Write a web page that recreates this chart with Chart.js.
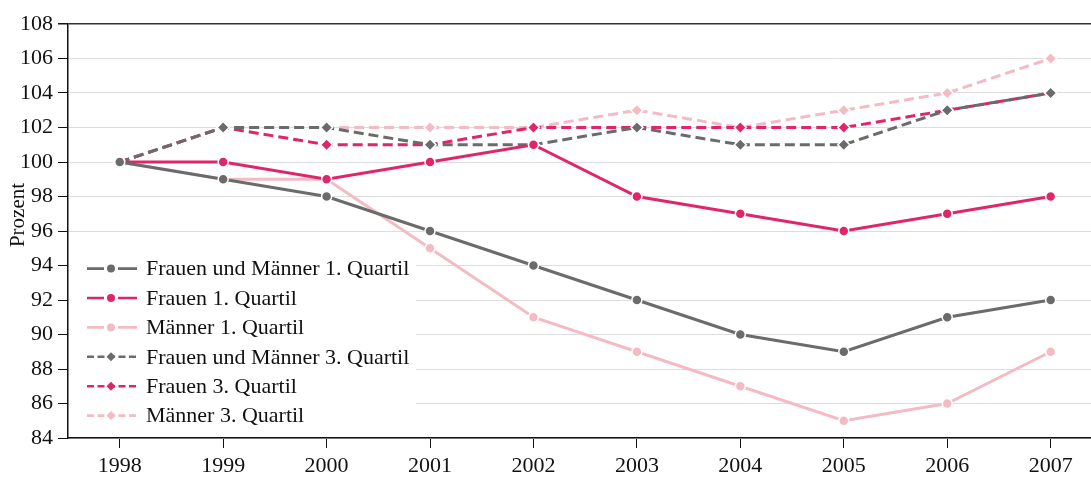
<!DOCTYPE html>
<html>
<head>
<meta charset="utf-8">
<script src="https://cdn.jsdelivr.net/npm/chart.js@4/dist/chart.umd.min.js"></script>
<style>
  html, body { margin: 0; padding: 0; background: #fff; overflow: hidden; }
  #wrap { width: 1091px; height: 478px; position: relative; }
</style>
</head>
<body>
<div id="wrap"><canvas id="chart"></canvas></div>
<script>
// Jahre (x-Achse)
const years = [1998, 1999, 2000, 2001, 2002, 2003, 2004, 2005, 2006, 2007];

// Werte in Prozent (1998 = 100)
const fmQ1 = [100, 99, 98, 96, 94, 92, 90, 89, 91, 92];
const fQ1 = [100, 100, 99, 100, 101, 98, 97, 96, 97, 98];
const mQ1 = [100, 99, 99, 95, 91, 89, 87, 85, 86, 89];
const fmQ3 = [100, 102, 102, 101, 101, 102, 101, 101, 103, 104];
const fQ3 = [100, 102, 101, 101, 102, 102, 102, 102, 103, 104];
const mQ3 = [100, 102, 102, 102, 102, 103, 102, 103, 104, 106];

const seriesLabels = [
    'Frauen und Männer 1. Quartil',
    'Frauen 1. Quartil',
    'Männer 1. Quartil',
    'Frauen und Männer 3. Quartil',
    'Frauen 3. Quartil',
    'Männer 3. Quartil'
];

// y-Achse: Tick-Werte und Titel
const yTicks = [84, 86, 88, 90, 92, 94, 96, 98, 100, 102, 104, 106, 108];
const yTitle = 'Prozent';

const GRAY = '#6b6b6b';
const RED = '#e0266a';
const PINK = '#f3bcc5';
const FONT = '"Liberation Serif", "DejaVu Serif", serif';
const FONT_SIZE = 22;

function makeSet(label, values, color, dashed) {
    return {
        label: label,
        data: values.map((v, i) => ({ x: years[i], y: v })),
        borderColor: color,
        backgroundColor: color,
        borderWidth: 3,
        borderDash: dashed ? [10, 5] : [],
        pointStyle: dashed ? 'rectRot' : 'circle',
        pointRadius: dashed ? 6 : 5,
        pointBorderColor: '#fff',
        pointBorderWidth: 1.5,
        pointBackgroundColor: color,
        tension: 0,
        fill: false
    };
}

const datasets = [
    makeSet(seriesLabels[0], fmQ1, GRAY, false),
    makeSet(seriesLabels[1], fQ1, RED, false),
    makeSet(seriesLabels[2], mQ1, PINK, false),
    makeSet(seriesLabels[3], fmQ3, GRAY, true),
    makeSet(seriesLabels[4], fQ3, RED, true),
    makeSet(seriesLabels[5], mQ3, PINK, true)
];

// Eigene Legende (Linie mit Marker, weißer Hintergrund) + y-Achsentitel
const legendBox = {
    id: 'legendBox',
    afterDatasetsDraw(chart) {
        const ctx = chart.ctx;
        const area = chart.chartArea;
        const left = area.left + 1;
        const bottom = area.bottom - 1;
        const rowH = 29.4;
        const boxH = rowH * datasets.length + 15;
        const top = bottom - boxH;
        ctx.save();
        ctx.fillStyle = '#fff';
        ctx.fillRect(left, top, 416 - left, boxH);
        ctx.font = FONT_SIZE + 'px ' + FONT;
        ctx.textBaseline = 'middle';
        chart.data.datasets.forEach((ds, i) => {
            const y = top + 23 + i * rowH;
            ctx.strokeStyle = ds.borderColor;
            ctx.lineWidth = 2.6;
            ctx.setLineDash(ds.borderDash.length ? [7, 3.5] : []);
            ctx.beginPath();
            if (ds.borderDash.length) {
                ctx.moveTo(87, y); ctx.lineTo(137, y);
            } else {
                ctx.moveTo(87, y); ctx.lineTo(104, y);
                ctx.moveTo(118, y); ctx.lineTo(137, y);
            }
            ctx.stroke();
            ctx.setLineDash([]);
            ctx.fillStyle = ds.borderColor;
            ctx.beginPath();
            if (ds.pointStyle === 'circle') {
                ctx.arc(111, y, 4, 0, Math.PI * 2);
            } else {
                ctx.moveTo(111, y - 4.5); ctx.lineTo(115.5, y);
                ctx.lineTo(111, y + 4.5); ctx.lineTo(106.5, y);
                ctx.closePath();
            }
            ctx.fill();
            ctx.fillStyle = '#111';
            ctx.fillText(ds.label, 146, y + 1);
        });

        // Titel der y-Achse, gedreht, leicht über der Mitte
        ctx.translate(18, 215);
        ctx.rotate(-Math.PI / 2);
        ctx.textAlign = 'center';
        ctx.font = '21px ' + FONT;
        ctx.fillText(yTitle, 0, 0);
        ctx.restore();
    }
};

new Chart(document.getElementById('chart'), {
    type: 'line',
    data: { datasets: datasets },
    options: {
        responsive: true,
        maintainAspectRatio: false,
        animation: false,
        layout: { autoPadding: false, padding: { top: 24, right: 0, left: 0, bottom: 0 } },
        plugins: {
            legend: { display: false },
            tooltip: { enabled: false }
        },
        scales: {
            x: {
                type: 'linear',
                min: 1997.5,
                max: 2007.39,
                afterBuildTicks: (scale) => { scale.ticks = years.map(v => ({ value: v })); },
                afterFit: (scale) => {
                    scale.height = 40;
                    scale.paddingLeft = 0;
                    scale.paddingRight = 0;
                },
                border: { display: true, color: '#111', width: 1.5 },
                grid: {
                    drawOnChartArea: false,
                    drawTicks: true,
                    tickLength: 10,
                    tickColor: '#111'
                },
                ticks: {
                    color: '#111',
                    font: { family: FONT, size: FONT_SIZE },
                    padding: 5,
                    maxRotation: 0,
                    callback: (v) => String(v)
                }
            },
            y: {
                min: 84,
                max: 108,
                afterBuildTicks: (scale) => { scale.ticks = yTicks.map(v => ({ value: v })); },
                afterFit: (scale) => {
                    scale.width = 68;
                    scale.paddingTop = 0;
                    scale.paddingBottom = 0;
                },
                border: { display: true, color: '#111', width: 1.5 },
                grid: {
                    color: (c) => (c.tick && c.tick.value === 108) ? '#333' : '#dddddd',
                    lineWidth: (c) => (c.tick && c.tick.value === 108) ? 1.5 : 1,
                    drawTicks: true,
                    tickLength: 10,
                    tickColor: '#111'
                },
                ticks: {
                    color: '#111',
                    font: { family: FONT, size: FONT_SIZE },
                    padding: 5
                }
            }
        }
    },
    plugins: [legendBox]
});
</script>
</body>
</html>
